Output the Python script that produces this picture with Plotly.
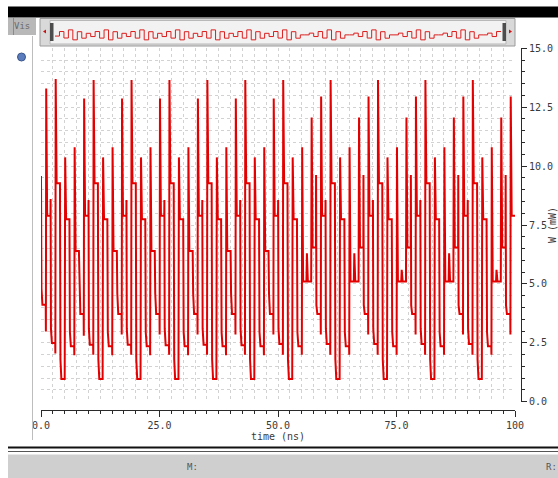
import plotly.graph_objects as go

# ---------------- data ----------------
# settled power level of each 1 ns time slot (mW), slots 0..99
levels = [
    4.11, 7.89, 2.49, 9.27, 0.96, 7.74, 2.35, 6.40, 3.72, 7.89,
    2.42, 9.27, 0.96, 7.74, 2.35, 6.40, 3.72, 7.89, 2.42, 9.27,
    0.96, 7.74, 2.35, 6.40, 3.72, 7.89, 2.40, 9.27, 0.96, 7.74,
    2.35, 6.40, 3.72, 7.89, 2.42, 9.27, 0.96, 7.74, 2.35, 6.40,
    3.72, 7.89, 2.40, 9.27, 0.96, 7.74, 2.35, 6.40, 3.72, 7.89,
    2.45, 9.27, 0.96, 7.74, 2.35, 5.10, 5.10, 6.55, 3.72, 7.89,
    2.45, 9.27, 0.96, 7.74, 2.35, 5.10, 5.10, 6.55, 3.72, 7.89,
    2.45, 9.27, 0.96, 7.74, 2.35, 5.10, 5.10, 6.55, 3.72, 7.89,
    2.45, 9.27, 0.96, 7.74, 2.35, 5.10, 5.10, 6.55, 3.72, 7.89,
    2.45, 9.27, 0.96, 7.74, 2.35, 5.10, 5.10, 6.55, 3.72, 7.89,
]
N = None
# first (opposite-direction) excursion at the start of each slot
pre_spike = [
    9.58, 2.98, 8.60, 2.05, N, N, N, 1.97, N, 2.80,
    8.56, 1.99, N, N, N, 1.97, N, 2.85, 8.56, 1.99,
    N, N, N, 1.97, N, 2.85, 8.56, 1.99, N, N,
    N, 1.97, N, 2.85, 8.56, 1.99, N, N, N, 1.97,
    N, 2.85, 8.56, 1.99, N, N, N, 1.97, N, 2.85,
    8.56, 1.99, N, N, N, 1.99, N, N, 9.62, 2.85,
    8.56, 1.99, N, N, N, 1.99, N, N, 9.62, 2.85,
    8.56, 1.99, N, N, N, 1.99, N, N, 9.62, 2.85,
    8.56, 1.99, N, N, N, 1.99, N, N, 9.62, 2.85,
    8.56, 1.99, N, N, N, 1.99, N, N, 9.62, 2.85,
]
# main overshoot at the start of each slot
peak_spike = [
    4.80, 13.29, 3.10, 13.70, 1.80, 10.37, 2.95, 10.80, 4.60, 12.87,
    3.10, 13.65, 1.80, 10.37, 2.95, 10.80, 4.60, 12.87, 3.10, 13.65,
    1.80, 10.37, 2.95, 10.80, 4.60, 12.87, 3.10, 13.65, 1.80, 10.37,
    2.95, 10.80, 4.60, 12.87, 3.10, 13.65, 1.80, 10.37, 2.95, 10.80,
    4.60, 12.87, 3.10, 13.65, 1.80, 10.37, 2.95, 10.80, 4.60, 12.87,
    3.10, 13.65, 1.80, 10.37, 2.95, 10.80, 6.30, 12.06, 4.10, 12.95,
    3.10, 13.65, 1.80, 10.37, 2.95, 10.80, 6.30, 12.06, 4.10, 12.95,
    3.10, 13.65, 1.80, 10.37, 2.95, 10.80, 5.60, 12.06, 4.10, 12.95,
    3.10, 13.65, 1.80, 10.37, 2.95, 10.80, 6.30, 12.06, 4.10, 12.95,
    3.10, 13.65, 1.80, 10.37, 2.95, 10.80, 5.60, 12.06, 4.10, 12.95,
]
slot_ns = 1.0
x_ticks = [0, 25, 50, 75, 100]
x_ticktext = ["0.0", "25.0", "50.0", "75.0", "100"]
y_ticks = [0, 2.5, 5, 7.5, 10, 12.5, 15]
y_ticktext = ["0.0", "2.5", "5.0", "7.5", "10.0", "12.5", "15.0"]

# ---------------- build waveform path ----------------
xs, ys = [], []
for k, lv in enumerate(levels):
    t = k * slot_ns
    if k > 0:
        xs.append(t); ys.append(levels[k - 1])
    if pre_spike[k] is not None:
        xs.append(t + (0.0 if k == 0 else 0.03)); ys.append(pre_spike[k])
    xs.append(t + 0.10); ys.append(peak_spike[k])
    xs.append(t + 0.30); ys.append(lv)
    xs.append(t + slot_ns); ys.append(lv)

mini_x = [k * slot_ns for k in range(len(levels))] + [len(levels) * slot_ns]
mini_y = levels + [levels[-1]]

W, H = 558, 478
def fx(px): return px / W
def fy(py): return 1 - py / H

RED = "rgb(226,0,0)"
AX = "#2a2a2a"
TXT = "#3a3a3a"
FONT = "DejaVu Sans Mono"

fig = go.Figure()
fig.add_trace(go.Scatter(x=xs, y=ys, mode="lines", xaxis="x", yaxis="y",
                         line=dict(color=RED, width=2), hoverinfo="skip"))
fig.add_trace(go.Scatter(x=[0, 100], y=[None, None], mode="lines", xaxis="x2", yaxis="y2",
                         hoverinfo="skip"))
fig.add_trace(go.Scatter(x=mini_x, y=mini_y, mode="lines", xaxis="x3", yaxis="y3",
                         line=dict(color="rgb(220,30,30)", width=1, shape="hv"), hoverinfo="skip"))

grid = dict(showgrid=True, gridcolor="#d2d2d2", griddash="dot", gridwidth=1,
            zeroline=False, showline=False, showticklabels=False, ticks="")

fig.update_layout(
    width=W, height=H, margin=dict(l=0, r=0, t=0, b=0, autoexpand=False),
    paper_bgcolor="white", plot_bgcolor="rgba(0,0,0,0)", showlegend=False,
    xaxis=dict(domain=[fx(41), fx(515)], range=[0, 100], dtick=2.5, tick0=0,
               anchor="y", **grid),
    yaxis=dict(domain=[fy(401.7), fy(48.3)], range=[0, 15], dtick=0.5, tick0=0,
               anchor="x", **grid),
    xaxis2=dict(overlaying="x", anchor="free", position=fy(409.6), range=[0, 100],
                showgrid=False, zeroline=False, showline=True, linecolor=AX, linewidth=1,
                ticks="outside", ticklen=6, tickcolor=AX, tickwidth=1,
                tickvals=x_ticks, ticktext=x_ticktext,
                minor=dict(dtick=2.5, tick0=0, ticks="outside", ticklen=3, tickcolor=AX, showgrid=False),
                tickfont=dict(family=FONT, size=10, color=TXT),
                title=dict(text="time (ns)", font=dict(family=FONT, size=10, color=TXT), standoff=3)),
    yaxis2=dict(overlaying="y", anchor="free", position=fx(521), side="right", range=[0, 15],
                showgrid=False, zeroline=False, showline=True, linecolor=AX, linewidth=1,
                ticks="outside", ticklen=5, tickcolor=AX, tickwidth=1,
                tickvals=y_ticks, ticktext=y_ticktext,
                minor=dict(dtick=0.5, tick0=0, ticks="outside", ticklen=3, tickcolor=AX, showgrid=False),
                tickfont=dict(family=FONT, size=10, color=TXT),
                title=dict(text="W (mW)", font=dict(family=FONT, size=10, color=TXT), standoff=4)),
    xaxis3=dict(domain=[fx(55), fx(501)], range=[0, 100], visible=False, anchor="y3"),
    yaxis3=dict(domain=[fy(41), fy(23)], range=[0, 15], visible=False, anchor="x3"),
)

def rect(x0, y0, x1, y1, fill, line=None, lw=0, layer="above"):
    return dict(type="rect", xref="paper", yref="paper", x0=fx(x0), x1=fx(x1), y0=fy(y1), y1=fy(y0),
                fillcolor=fill, line=dict(color=line or fill, width=lw), layer=layer)

def hline(x0, x1, y, color, w=1):
    return dict(type="line", xref="paper", yref="paper", x0=fx(x0), x1=fx(x1), y0=fy(y), y1=fy(y),
                line=dict(color=color, width=w))

def vline(x, y0, y1, color, w=1):
    return dict(type="line", xref="paper", yref="paper", x0=fx(x), x1=fx(x), y0=fy(y0), y1=fy(y1),
                line=dict(color=color, width=w))

def path(pts, fill):
    d = "M " + " L ".join(f"{fx(a):.5f},{fy(b):.5f}" for a, b in pts) + " Z"
    return dict(type="path", xref="paper", yref="paper", path=d, fillcolor=fill,
                line=dict(color=fill, width=0))

shapes = [
    rect(8, 6.5, 558, 17.5, "black"),
    rect(8, 18, 36, 35, "#b8b8b8"),
    vline(13.5, 18, 35, "#8a8a8a"),
    rect(40, 18.5, 515, 46, "#d9d9d9", "#9a9a9a", 1, "below"),
    rect(50, 20.5, 506, 44, "#f2f2f2", "#b8b8b8", 1, "below"),
    rect(50, 23, 53.5, 41, "#4d4d4d"),
    rect(502.5, 23, 506, 41, "#4d4d4d"),
    path([(46, 29.5), (43, 31.5), (46, 33.5)], "#d01010"),
    path([(509, 29.5), (512, 31.5), (509, 33.5)], "#d01010"),
    vline(32.5, 36, 440, "#bdbdbd"),
    dict(type="circle", xref="paper", yref="paper", x0=fx(17.5), x1=fx(25.5), y0=fy(61), y1=fy(53),
         fillcolor="#5b7dbd", line=dict(color="#3a568f", width=1)),
    hline(8, 558, 447.5, "#111111", 2),
    hline(8, 558, 451.5, "#555555", 1),
    rect(8, 454, 558, 478, "#cfcfcf"),
    hline(8, 558, 454.5, "#e8e8e8", 1),
]
fig.update_layout(shapes=shapes)

fig.update_layout(annotations=[
    dict(text="Vis", x=fx(22), y=fy(26.5), xref="paper", yref="paper", showarrow=False,
         xanchor="center", yanchor="middle",
         font=dict(family=FONT, size=9, color="#6a6a6a")),
    dict(text="M:", x=fx(192), y=fy(467), xref="paper", yref="paper", showarrow=False,
         xanchor="center", yanchor="middle",
         font=dict(family=FONT, size=9, color="#555555")),
    dict(text="R:", x=fx(551), y=fy(467), xref="paper", yref="paper", showarrow=False,
         xanchor="center", yanchor="middle",
         font=dict(family=FONT, size=9, color="#555555")),
])

fig.write_html("out.html", config={"displayModeBar": False, "staticPlot": True},
               post_script="document.body.style.margin='0';document.body.style.overflow='hidden';")
